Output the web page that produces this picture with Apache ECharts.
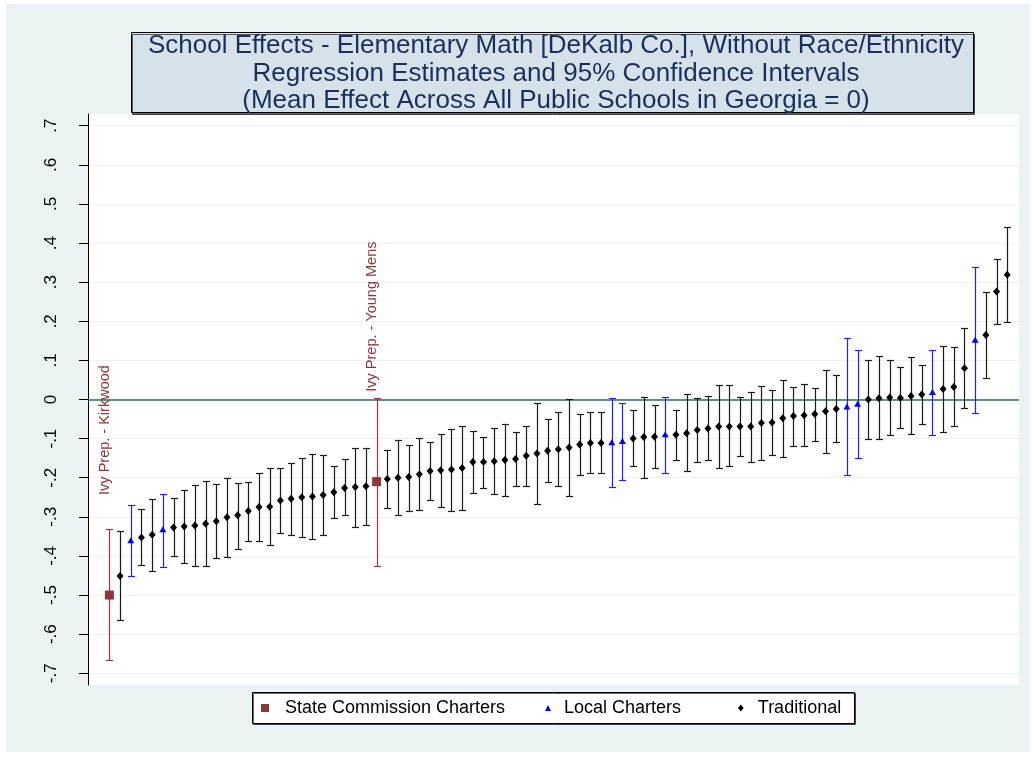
<!DOCTYPE html>
<html><head><meta charset="utf-8">
<script src="https://cdn.jsdelivr.net/npm/echarts@6/dist/echarts.min.js"></script>
<style>html,body{margin:0;padding:0;background:#fff}#c{width:1034px;height:757px}</style>
</head><body><div id="c"></div>
<script>
// ---- Data (schools ranked by estimated effect) ----
const estimates = [
 -0.500,-0.451,-0.360,-0.353,-0.346,-0.332,-0.327,-0.325,-0.322,-0.318,
 -0.311,-0.301,-0.296,-0.285,-0.275,-0.274,-0.258,-0.254,-0.250,-0.248,
 -0.244,-0.237,-0.226,-0.224,-0.222,-0.210,-0.203,-0.200,-0.198,-0.191,
 -0.183,-0.181,-0.179,-0.175,-0.160,-0.160,-0.158,-0.155,-0.152,-0.144,
 -0.138,-0.131,-0.127,-0.123,-0.115,-0.111,-0.111,-0.109,-0.106,-0.100,
 -0.096,-0.095,-0.089,-0.090,-0.086,-0.078,-0.074,-0.069,-0.069,-0.069,
 -0.069,-0.060,-0.059,-0.048,-0.042,-0.040,-0.037,-0.030,-0.024,-0.018,
 -0.011,0.000,0.003,0.005,0.004,0.009,0.013,0.019,0.027,0.032,
 0.080,0.153,0.165,0.276,0.319
];
const ciUpper = [
 -0.331,-0.336,-0.270,-0.281,-0.255,-0.241,-0.253,-0.232,-0.219,-0.209,
 -0.216,-0.201,-0.214,-0.210,-0.189,-0.176,-0.175,-0.163,-0.150,-0.140,
 -0.142,-0.171,-0.153,-0.125,-0.124,0.004,-0.129,-0.104,-0.116,-0.099,
 -0.109,-0.088,-0.075,-0.069,-0.080,-0.095,-0.073,-0.062,-0.083,-0.067,
 -0.009,-0.050,-0.032,0.001,-0.037,-0.032,-0.031,0.005,-0.009,-0.027,
 0.006,-0.014,0.006,-0.026,0.014,0.004,0.009,0.038,0.036,0.006,
 0.020,0.034,0.024,0.050,0.033,0.039,0.029,0.075,0.062,0.156,
 0.126,0.102,0.110,0.100,0.083,0.108,0.087,0.126,0.137,0.134,
 0.183,0.338,0.276,0.359,0.440
];
const ciLower = [
 -0.666,-0.565,-0.451,-0.423,-0.438,-0.428,-0.399,-0.418,-0.427,-0.425,
 -0.405,-0.403,-0.381,-0.361,-0.363,-0.371,-0.342,-0.346,-0.351,-0.356,
 -0.347,-0.303,-0.296,-0.325,-0.322,-0.426,-0.277,-0.296,-0.284,-0.282,
 -0.257,-0.274,-0.284,-0.282,-0.240,-0.226,-0.242,-0.247,-0.222,-0.221,
 -0.266,-0.211,-0.221,-0.247,-0.194,-0.189,-0.189,-0.225,-0.206,-0.170,
 -0.200,-0.176,-0.188,-0.154,-0.184,-0.160,-0.155,-0.176,-0.171,-0.144,
 -0.160,-0.155,-0.142,-0.147,-0.119,-0.118,-0.106,-0.138,-0.109,-0.194,
 -0.149,-0.102,-0.102,-0.091,-0.072,-0.089,-0.062,-0.092,-0.083,-0.069,
 -0.022,-0.035,0.055,0.192,0.198
];
// S = State Commission Charter, L = Local Charter, T = Traditional
const schoolType = [
 'S','T','L','T','T','L','T','T','T','T',
 'T','T','T','T','T','T','T','T','T','T',
 'T','T','T','T','T','S','T','T','T','T',
 'T','T','T','T','T','T','T','T','T','T',
 'T','T','T','T','T','T','T','L','L','T',
 'T','T','L','T','T','T','T','T','T','T',
 'T','T','T','T','T','T','T','T','T','L',
 'L','T','T','T','T','T','T','L','T','T',
 'T','L','T','T','T'
];
const stateCharterNames = ['Ivy Prep. - Kirkwood', 'Ivy Prep. - Young Mens'];
const seriesNames = {S: 'State Commission Charters', L: 'Local Charters', T: 'Traditional'};
const tickValues = [-0.7,-0.6,-0.5,-0.4,-0.3,-0.2,-0.1,0,0.1,0.2,0.3,0.4,0.5,0.6,0.7];
const tickLabels = ['-.7','-.6','-.5','-.4','-.3','-.2','-.1','0','.1','.2','.3','.4','.5','.6','.7'];
const titleLines = [
 'School Effects - Elementary Math [DeKalb Co.], Without Race/Ethnicity',
 'Regression Estimates and 95% Confidence Intervals',
 '(Mean Effect Across All Public Schools in Georgia = 0)'
];

// ---- Build series ----
const FONT = '"Liberation Sans", Arial, Helvetica, sans-serif';
const styles = {
  S: {color: '#90353b', bar: '#953a40', symbol: 'rect', size: 9},
  L: {color: '#0000ff', bar: '#1f1fff', symbol: 'triangle', size: [7, 6]},
  T: {color: '#000000', bar: '#1a1a1a', symbol: 'diamond', size: [7, 8]}
};
function pointsOf(code) {
  const out = [];
  estimates.forEach((e, i) => { if (schoolType[i] === code) out.push([i + 1, e]); });
  return out;
}
function barsOf(code) {
  const out = [];
  estimates.forEach((e, i) => { if (schoolType[i] === code) out.push([i + 1, ciLower[i], ciUpper[i]]); });
  return out;
}
function makeBarRender(color) {
  return function (params, api) {
    const x = api.value(0);
    const a = api.coord([x, api.value(1)]);
    const b = api.coord([x, api.value(2)]);
    const px = Math.round(a[0]) + 0.5;
    const ya = Math.round(a[1]) + 0.5, yb = Math.round(b[1]) + 0.5;
    const w = 3.5;
    const st = {stroke: color, lineWidth: 1.2};
    return {type: 'group', children: [
      {type: 'line', shape: {x1: px, y1: ya, x2: px, y2: yb}, style: st},
      {type: 'line', shape: {x1: px - w, y1: ya, x2: px + w, y2: ya}, style: st},
      {type: 'line', shape: {x1: px - w, y1: yb, x2: px + w, y2: yb}, style: st}
    ]};
  };
}
const series = [];
['S', 'L', 'T'].forEach(code => {
  const s = styles[code];
  const bar = {
    type: 'custom', name: seriesNames[code] + ' CI', renderItem: makeBarRender(s.bar),
    data: barsOf(code), encode: {x: 0, y: [1, 2]}, z: 2, silent: true
  };
  if (code === 'T') {
    bar.markLine = {
      silent: true, symbol: 'none', label: {show: false},
      lineStyle: {color: '#2f6f5f', width: 1.5, type: 'solid'},
      data: [{yAxis: 0}], z: 1
    };
  }
  series.push(bar);
});
['S', 'L', 'T'].forEach(code => {
  const s = styles[code];
  series.push({
    type: 'scatter', name: seriesNames[code], data: pointsOf(code),
    symbol: s.symbol, symbolSize: s.size, itemStyle: {color: s.color, opacity: 1},
    z: 4, silent: true
  });
});
// labels for state commission charters
const statePts = pointsOf('S').map((p, k) => [p[0], p[1], stateCharterNames[k]]);
series.push({
  type: 'custom', name: 'labels', silent: true, z: 5,
  data: statePts, encode: {x: 0, y: 1},
  renderItem: function (params, api) {
    const p = api.coord([api.value(0), api.value(1)]);
    return {type: 'text', x: p[0] + 3, y: p[1] - 165, rotation: Math.PI / 2,
      style: {text: statePts[params.dataIndex][2], fill: '#90353b', fontSize: 14.5,
        fontFamily: FONT, align: 'center', verticalAlign: 'bottom', lineHeight: 15}};
  }
});

const legendBase = {
  orient: 'horizontal', padding: 0, top: 698, selectedMode: false,
  textStyle: {fontSize: 18, fontFamily: FONT, color: '#000', lineHeight: 20}
};
const option = {
  animation: false,
  backgroundColor: '#ffffff',
  grid: {left: 88, right: 15, top: 114, bottom: 72, show: true, backgroundColor: '#ffffff', borderWidth: 0},
  xAxis: {type: 'value', min: -1, max: 86.1, show: false},
  yAxis: {
    type: 'value', min: -0.73, max: 0.73,
    axisLine: {show: true, onZero: false, lineStyle: {color: '#000', width: 1}},
    axisTick: {show: true, length: 9, lineStyle: {color: '#000', width: 1}, customValues: tickValues},
    axisLabel: {
      customValues: tickValues, rotate: 90, margin: 28, color: '#000',
      fontSize: 17, fontFamily: FONT, lineHeight: 17,
      formatter: v => { const i = tickValues.findIndex(t => Math.abs(t - v) < 1e-6); return i >= 0 ? tickLabels[i] : ''; }
    },
    splitLine: {show: true, lineStyle: {color: '#eaf0f3', width: 1}}
  },
  legend: [
    Object.assign({}, legendBase, {left: 261, itemWidth: 30, itemHeight: 8,
      data: [{name: seriesNames.S, icon: 'path://M0,0L1,0L1,1L0,1Z'}]}),
    Object.assign({}, legendBase, {left: 545, itemWidth: 22, itemHeight: 6,
      data: [{name: seriesNames.L, icon: 'path://M0.5,0L1,1L0,1Z'}]}),
    Object.assign({}, legendBase, {left: 738, itemWidth: 24, itemHeight: 7,
      data: [{name: seriesNames.T, icon: 'path://M0.4,0L0.8,0.5L0.4,1L0,0.5Z'}]})
  ],
  graphic: [
    {type: 'rect', z: -10, silent: true, shape: {x: 6, y: 4, width: 1024, height: 748}, style: {fill: '#eaf2f3'}},
    {type: 'rect', z: 10, silent: true, shape: {x: 131.5, y: 32.5, width: 842, height: 80},
      style: {fill: '#d6e2e9', stroke: '#000', lineWidth: 1, shadowColor: 'rgba(0,0,0,0.6)', shadowOffsetX: 1, shadowOffsetY: 2, shadowBlur: 0}},
    {type: 'text', z: 11, silent: true, x: 556, y: 32.5,
      style: {text: titleLines.join('\n'), fill: '#1c2e5c', fontSize: 26, fontFamily: FONT,
        lineHeight: 27.5, align: 'center', verticalAlign: 'top'}},
    {type: 'rect', z: 3, silent: true, shape: {x: 252.5, y: 692.5, width: 602, height: 31},
      style: {fill: '#fff', stroke: '#000', lineWidth: 1, shadowColor: 'rgba(0,0,0,0.6)', shadowOffsetX: 1, shadowOffsetY: 1, shadowBlur: 0}}
  ],
  series: series
};
const chart = echarts.init(document.getElementById('c'), null, {renderer: 'canvas'});
chart.setOption(option);
</script>
</body></html>
